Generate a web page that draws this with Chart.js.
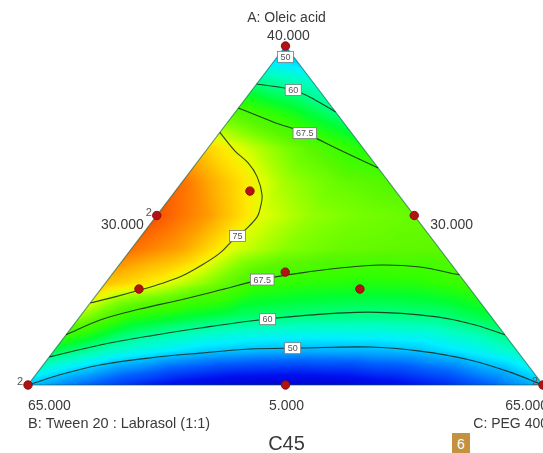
<!DOCTYPE html>
<html>
<head>
<meta charset="utf-8">
<script src="https://cdn.jsdelivr.net/npm/chart.js@4.4.1/dist/chart.umd.min.js"></script>
<style>
  html, body { margin: 0; padding: 0; background: #fff; }
  #wrap { position: relative; width: 543px; height: 453px; overflow: hidden; }
  #badge { position: absolute; left: 452px; top: 433px; width: 18px; height: 21px;
           background: #c4923f; color: #fff; font: 14px "Liberation Sans", Arial, sans-serif;
           text-align: center; line-height: 23px; }
</style>
</head>
<body>
<div id="wrap">
  <canvas id="c45Plot" width="543" height="453"></canvas>
  <div id="badge">6</div>
</div>
<script>
// Response on a ternary lattice (10 steps).
// Row i is A = i/10, values run left to right with C = 0, 0.1, 0.2 ...
var surfaceRows = [
    [50, 44, 38, 33, 30, 29, 30, 33, 37, 43, 50],
    [62, 57, 53.5, 50.7, 49.3, 48.8, 49, 50, 53, 57],
    [72, 65.5, 63, 61, 60, 59.5, 59.4, 60, 62.5],
    [78, 75.3, 71.5, 66.5, 65.5, 65, 65.3, 66.8],
    [82, 79.5, 74.3, 71.5, 70, 69.5, 69.3],
    [83.5, 80, 74.7, 72, 70.8, 70],
    [82, 77, 72.5, 70, 68.5],
    [77, 73, 69, 65],
    [69, 65, 60.3],
    [59, 56],
    [47]
];

// Contour traces as [A, C] fractions
var contour50Low = [[0, 0], [0.030, 0.047], [0.059, 0.110], [0.080, 0.197], [0.094, 0.287], [0.106, 0.378],
    [0.109, 0.474], [0.112, 0.608], [0.100, 0.711], [0.074, 0.821], [0.038, 0.917], [0, 1]];
var contour60Low = [[0.083, 0], [0.118, 0.081], [0.145, 0.165], [0.168, 0.250], [0.189, 0.337], [0.204, 0.426],
    [0.215, 0.556], [0.201, 0.694], [0.177, 0.780], [0.148, 0.852]];
var contour675Low = [[0.148, 0], [0.192, 0.044], [0.224, 0.105], [0.251, 0.170], [0.280, 0.233], [0.310, 0.296],
    [0.330, 0.363], [0.345, 0.433], [0.354, 0.507], [0.348, 0.587], [0.325, 0.675]];
var contour75 = [[0.745, 0], [0.690, 0.057], [0.655, 0.100], [0.614, 0.138], [0.561, 0.174], [0.522, 0.190],
    [0.496, 0.197], [0.463, 0.194], [0.434, 0.185], [0.389, 0.178], [0.351, 0.159], [0.319, 0.136],
    [0.298, 0.107], [0.280, 0.077], [0.260, 0.039], [0.242, 0]];
var contour675High = [[0.817, 0], [0.776, 0.088], [0.743, 0.166], [0.693, 0.259], [0.640, 0.360]];
var contour60High = [[0.888, 0], [0.870, 0.080], [0.841, 0.137], [0.805, 0.195]];
var contour50High = [[0.968, 0], [0.968, 0.032]];

// Design points (A, C fractions) and replicate counts
var designA = [1, 0.5, 0.5, 0, 0, 0, 0.572, 0.283, 0.333, 0.283];
var designC = [0, 0, 0.5, 0, 0.5, 1, 0.145, 0.074, 0.333, 0.503];
var designReps = [1, 2, 1, 2, 1, 2, 1, 1, 1, 1];

// Axis texts
var componentNames = ['A: Oleic acid', 'B: Tween 20 : Labrasol (1:1)', 'C: PEG 400'];
var vertexLabels = ['40.000', '65.000', '65.000'];
var midLabels = ['30.000', '5.000', '30.000'];
var chartTitle = 'C45';

// colour scale
var colorStops = [28, 35, 43, 50, 53, 57, 60, 63, 66, 69, 71, 73, 74.5, 76, 79, 82, 84.5];
var colorHex = ['#0000c8', '#0010f0', '#0060ff', '#00c0ff', '#00f0ff', '#00ffc0', '#00ff80', '#00ff30',
    '#30ff00', '#58f800', '#78ff00', '#b0ff00', '#e0ff00', '#ffe800', '#ffb000', '#ff7000', '#f04000'];

function toXY(a, c)
{
    return {x: c + a / 2, y: a};
}

function tracePoints(trace)
{
    return trace.map(function(p) { return toXY(p[0], p[1]); });
}

function surfaceAt(a, c)
{
    var n = surfaceRows.length - 1;
    var u = a * n, w = c * n;
    var i = Math.max(0, Math.min(n - 1, Math.floor(u)));
    var k = Math.max(0, Math.min(n - 1 - i, Math.floor(w)));
    var fu = u - i, fw = w - k;
    var v = function(r, s) { return surfaceRows[r][s]; };
    if (fu + fw <= 1 || i + k >= n - 1)
        return v(i, k) * (1 - fu - fw) + v(i + 1, k) * fu + v(i, k + 1) * fw;
    return v(i + 1, k + 1) * (fu + fw - 1) + v(i + 1, k) * (1 - fw) + v(i, k + 1) * (1 - fu);
}

var colorRgb = colorHex.map(function(h) {
    return [parseInt(h.substr(1, 2), 16), parseInt(h.substr(3, 2), 16), parseInt(h.substr(5, 2), 16)];
});

function colorFor(v)
{
    if (v <= colorStops[0]) return colorRgb[0];
    for (var i = 1; i < colorStops.length; i++) {
        if (v <= colorStops[i]) {
            var t = (v - colorStops[i - 1]) / (colorStops[i] - colorStops[i - 1]);
            var c0 = colorRgb[i - 1], c1 = colorRgb[i];
            return [c0[0] + (c1[0] - c0[0]) * t, c0[1] + (c1[1] - c0[1]) * t, c0[2] + (c1[2] - c0[2]) * t];
        }
    }
    return colorRgb[colorRgb.length - 1];
}

var fieldPlugin = {
    id: 'ternaryField',
    beforeDatasetsDraw: function(chart) {
        var area = chart.chartArea, xs = chart.scales.x, ys = chart.scales.y, ctx = chart.ctx;
        var x0 = Math.floor(area.left) - 1, y0 = Math.floor(area.top) - 1;
        var w = Math.ceil(area.right) - x0 + 2, h = Math.ceil(area.bottom) - y0 + 2;
        var off = document.createElement('canvas');
        off.width = w; off.height = h;
        var octx = off.getContext('2d');
        var img = octx.createImageData(w, h);
        for (var py = 0; py < h; py++) {
            var a = ys.getValueForPixel(y0 + py + 0.5);
            for (var px = 0; px < w; px++) {
                var X = xs.getValueForPixel(x0 + px + 0.5);
                var aa = Math.max(0, Math.min(1, a));
                var c = Math.max(0, Math.min(1 - aa, X - aa / 2));
                var col = colorFor(surfaceAt(aa, c));
                var o = (py * w + px) * 4;
                img.data[o] = col[0]; img.data[o + 1] = col[1]; img.data[o + 2] = col[2]; img.data[o + 3] = 255;
            }
        }
        octx.putImageData(img, 0, 0);

        var top = {x: xs.getPixelForValue(0.5), y: ys.getPixelForValue(1)};
        var bl = {x: xs.getPixelForValue(0), y: ys.getPixelForValue(0)};
        var br = {x: xs.getPixelForValue(1), y: ys.getPixelForValue(0)};
        ctx.save();
        ctx.beginPath();
        ctx.moveTo(top.x, top.y);
        ctx.lineTo(bl.x, bl.y);
        ctx.lineTo(br.x, br.y);
        ctx.closePath();
        ctx.clip();
        ctx.drawImage(off, x0, y0, w, h);
        ctx.restore();
    },
    beforeDatasetDraw: function(chart, args) {
        // contour level boxes go under the design points
        if (args.index !== 0) return;
        var ctx = chart.ctx;
        ctx.save();
        ctx.font = '9px "Liberation Sans", Arial, sans-serif';
        ctx.textAlign = 'center';
        ctx.textBaseline = 'middle';
        chart.data.datasets.forEach(function(ds, i) {
            if (ds.level === undefined) return;
            var pts = chart.getDatasetMeta(i).data;
            var k = Math.floor(ds.labelAt), t = ds.labelAt - k;
            var p0 = pts[k], p1 = pts[Math.min(k + 1, pts.length - 1)];
            var x = p0.x + (p1.x - p0.x) * t, y = p0.y + (p1.y - p0.y) * t;
            var tw = ctx.measureText(ds.level).width + 6;
            ctx.fillStyle = '#ffffff';
            ctx.fillRect(x - tw / 2, y - 5.5, tw, 11);
            ctx.strokeStyle = '#7a7a7a';
            ctx.lineWidth = 0.8;
            ctx.strokeRect(x - tw / 2, y - 5.5, tw, 11);
            ctx.fillStyle = '#555';
            ctx.fillText(ds.level, x, y + 0.5);
        });
        ctx.restore();
    },
    afterDraw: function(chart) {
        var xs = chart.scales.x, ys = chart.scales.y, ctx = chart.ctx;
        var top = {x: xs.getPixelForValue(0.5), y: ys.getPixelForValue(1)};
        var bl = {x: xs.getPixelForValue(0), y: ys.getPixelForValue(0)};
        var br = {x: xs.getPixelForValue(1), y: ys.getPixelForValue(0)};
        var font = '"Liberation Sans", Arial, sans-serif';
        ctx.save();
        ctx.fillStyle = '#3a3a3a';
        ctx.textBaseline = 'middle';
        ctx.font = '14px ' + font;

        ctx.textAlign = 'center';
        ctx.fillText(componentNames[0], top.x + 1, top.y - 28);
        ctx.fillText(vertexLabels[0], top.x + 3, top.y - 10);
        ctx.fillText(midLabels[1], (bl.x + br.x) / 2 + 1, bl.y + 21);

        ctx.textAlign = 'right';
        ctx.fillText(midLabels[0], (top.x + bl.x) / 2 - 13, (top.y + bl.y) / 2 + 10);
        ctx.fillText(vertexLabels[2], br.x + 5, br.y + 21);
        ctx.fillText(componentNames[2], br.x + 5, br.y + 39);

        ctx.textAlign = 'left';
        ctx.fillText(midLabels[2], (top.x + br.x) / 2 + 16, (top.y + br.y) / 2 + 10);
        ctx.fillText(vertexLabels[1], bl.x, bl.y + 21);
        ctx.font = '14.5px ' + font;
        ctx.fillText(componentNames[1], bl.x, bl.y + 39);

        ctx.textAlign = 'center';
        ctx.font = '20px ' + font;
        ctx.fillText(chartTitle, (bl.x + br.x) / 2 + 1, bl.y + 59);

        // replicate counts next to the design points
        ctx.font = '11px ' + font;
        ctx.textAlign = 'right';
        ctx.fillStyle = '#555';
        var meta = chart.getDatasetMeta(0).data;
        designReps.forEach(function(r, i) {
            if (r > 1) ctx.fillText(String(r), meta[i].x - 5, meta[i].y - 3);
        });
        ctx.restore();
    }
};

function contourDataset(trace, level, labelAt)
{
    return {
        data: tracePoints(trace),
        level: level,
        labelAt: labelAt,
        showLine: true,
        borderColor: 'rgba(20, 40, 25, 0.85)',
        borderWidth: 1.1,
        pointRadius: 0,
        tension: 0.35,
        clip: false
    };
}

new Chart(document.getElementById('c45Plot'), {
    type: 'scatter',
    data: {
        datasets: [
            {
                data: designA.map(function(a, i) { return toXY(a, designC[i]); }),
                pointRadius: 4.2,
                pointBackgroundColor: '#b31212',
                pointBorderColor: '#8c0c0c',
                pointBorderWidth: 1,
                clip: false
            },
            contourDataset(contour50Low, '50', 5.85),
            contourDataset(contour60Low, '60', 4.35),
            contourDataset(contour675Low, '67.5', 5.05),
            contourDataset(contour75, '75', 7.8),
            contourDataset(contour675High, '67.5', 2),
            contourDataset(contour60High, '60', 1),
            contourDataset(contour50High, '50', 0.5),
            {
                data: tracePoints([[1, 0], [0, 0], [0, 1], [1, 0]]),
                showLine: true,
                borderColor: 'rgba(0, 90, 70, 0.6)',
                borderWidth: 1.2,
                pointRadius: 0,
                clip: false
            }
        ]
    },
    options: {
        responsive: false,
        animation: false,
        layout: {autoPadding: false, padding: {left: 28, right: 0, top: 46, bottom: 68}},
        scales: {
            x: {type: 'linear', min: 0, max: 1, display: false},
            y: {type: 'linear', min: 0, max: 1, display: false}
        },
        plugins: {
            legend: {display: false},
            tooltip: {enabled: false}
        }
    },
    plugins: [fieldPlugin]
});
</script>
</body>
</html>
